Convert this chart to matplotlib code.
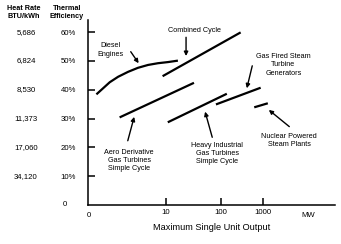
import matplotlib
matplotlib.use("Agg")
import matplotlib.pyplot as plt
import matplotlib.transforms as mtransforms
import numpy as np

plt.rcParams['font.family'] = ['Liberation Sans', 'DejaVu Sans']

# ---- data (x in schematic axis position units 0-100, y in thermal efficiency %) ----
eff_ticks = [0, 10, 20, 30, 40, 50, 60]
eff_labels = ['0', '10%', '20%', '30%', '40%', '50%', '60%']
heat_rates = ['34,120', '17,060', '11,373', '8,530', '6,824', '5,686']
heat_rate_eff = [10, 20, 30, 40, 50, 60]
x_tick_pos = [31.5, 53.7, 70.7]
x_tick_labels = ['10', '100', '1000']

diesel_x = [3.4, 6.1, 8.8, 12.2, 16.2, 20.2, 24.3, 28.3, 32.4, 36.4]
diesel_y = [38.4, 40.5, 42.6, 44.5, 46.2, 47.6, 48.6, 49.2, 49.6, 50.1]
combined_x = [30.2, 61.8]
combined_y = [44.7, 59.9]
aero_x = [12.8, 42.9]
aero_y = [30.4, 42.4]
heavy_x = [32.3, 56.2]
heavy_y = [28.7, 38.6]
steam_x = [51.8, 69.9]
steam_y = [34.9, 40.7]
nuclear_x = [67.3, 72.8]
nuclear_y = [33.9, 35.3]

labels = [
    ("Diesel\nEngines", 9.2, 53.8, (17.3, 53.2), (20.5, 49.2)),
    ("Combined Cycle", 43.3, 60.7, (39.7, 58.2), (39.7, 51.7)),
    ("Gas Fired Steam\nTurbine\nGenerators", 79.1, 48.6, (66.5, 48.3), (64.3, 40.5)),
    ("Nuclear Powered\nSteam Plants", 81.5, 22.5, (81.5, 27.2), (73.2, 33.0)),
    ("Aero Derivative\nGas Turbines\nSimple Cycle", 16.7, 15.5, (16.1, 22.3), (18.7, 30.6)),
    ("Heavy Industrial\nGas Turbines\nSimple Cycle", 52.3, 17.8, (50.3, 23.5), (47.4, 32.4)),
]

W, H = 341, 244
fig = plt.figure(figsize=(W / 100, H / 100), dpi=100)
ax = fig.add_axes([88 / W, (H - 205) / H, 247 / W, 185 / H])
ax.set_xlim(0, 100)
ax.set_ylim(0, 64.2)

for s in ['top', 'right']:
    ax.spines[s].set_visible(False)
for s in ['left', 'bottom']:
    ax.spines[s].set_linewidth(1.1)
    ax.spines[s].set_color('black')

lw = 1.6
ax.plot(diesel_x, diesel_y, color='black', lw=lw, solid_capstyle='butt',
        solid_joinstyle='round')
for xs, ys in [(combined_x, combined_y), (aero_x, aero_y), (heavy_x, heavy_y),
               (steam_x, steam_y), (nuclear_x, nuclear_y)]:
    ax.plot(xs, ys, color='black', lw=lw, solid_capstyle='butt')

for text, tx, ty, tail, head in labels:
    ax.text(tx, ty, text, ha='center', va='center', fontsize=5.2,
            linespacing=1.25, color='black')
    ax.annotate('', xy=head, xytext=tail,
                arrowprops=dict(arrowstyle='-|>', color='black', lw=1.0,
                                mutation_scale=6, shrinkA=0, shrinkB=0))

ax.set_yticks(eff_ticks[1:])
ax.set_yticklabels(eff_labels[1:])
ax.tick_params(axis='y', direction='in', length=5, width=1.1, pad=8.5,
               labelsize=5.6)
ax.set_xticks(x_tick_pos)
ax.set_xticklabels(x_tick_labels)
ax.tick_params(axis='x', direction='in', length=5, width=1.1, pad=3,
               labelsize=5.6)

# origin and unit labels
ax.text(-8.6, 0, '0', ha='right', va='center', fontsize=5.6)
ax.text(0.4, -2.3, '0', ha='center', va='top', fontsize=5.6)
ax.text(89.1, -2.3, 'MW', ha='center', va='top', fontsize=5.6)

# heat rate column
trans = mtransforms.blended_transform_factory(fig.transFigure, ax.transData)
for hr, e in zip(heat_rates, heat_rate_eff):
    ax.text(26 / W, e, hr, transform=trans, ha='center', va='center',
            fontsize=5.6)

fig.text(24 / W, 1 - 8 / H, 'Heat Rate', ha='center', va='center',
         fontsize=5.2, fontweight='bold')
fig.text(24 / W, 1 - 16.5 / H, 'BTU/kWh', ha='center', va='center',
         fontsize=5.2, fontweight='bold')
fig.text(67 / W, 1 - 8 / H, 'Thermal', ha='center', va='center',
         fontsize=5.2, fontweight='bold')
fig.text(67 / W, 1 - 16.5 / H, 'Efficiency', ha='center', va='center',
         fontsize=5.2, fontweight='bold')

ax.set_xlabel('Maximum Single Unit Output', fontsize=6.6, labelpad=5)

fig.savefig('out.png', dpi=100, facecolor='white')
